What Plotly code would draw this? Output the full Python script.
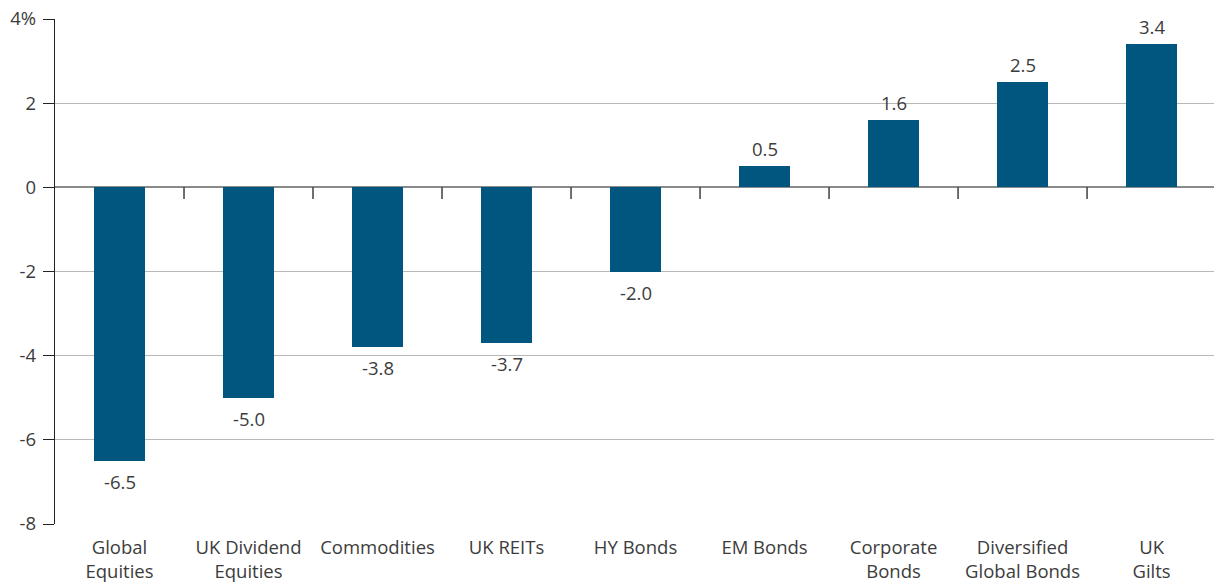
import plotly.graph_objects as go

# Asset class returns (%)
categories = [
    "Global<br>Equities",
    "UK Dividend<br>Equities",
    "Commodities",
    "UK REITs",
    "HY Bonds",
    "EM Bonds",
    "Corporate<br>Bonds",
    "Diversified<br>Global Bonds",
    "UK<br>Gilts",
]
returns = [-6.5, -5.0, -3.8, -3.7, -2.0, 0.5, 1.6, 2.5, 3.4]

y_ticks = [-8, -6, -4, -2, 0, 2, 4]
y_tick_text = ["-8", "-6", "-4", "-2", "0", "2", "4%"]

BAR_COLOR = "#00567F"
TEXT_COLOR = "#3c3c3c"
FONT = "Open Sans, Liberation Sans, Arial, sans-serif"
FONT_SIZE = 18.5

x_pos = list(range(len(categories)))

fig = go.Figure(
    go.Bar(
        x=x_pos,
        y=returns,
        width=0.39,
        marker=dict(color=BAR_COLOR, line=dict(width=0)),
        hoverinfo="skip",
    )
)

# value labels above positive bars, below negative ones
for x, v in zip(x_pos, returns):
    fig.add_annotation(
        x=x,
        y=v,
        text=f"{v:.1f}",
        showarrow=False,
        xref="x",
        yref="y",
        yanchor="bottom" if v >= 0 else "top",
        yshift=3 if v >= 0 else -6,
        font=dict(size=FONT_SIZE, color=TEXT_COLOR, family=FONT),
    )

# small category separators hanging from the zero line
for i in range(len(categories) - 1):
    fig.add_shape(
        type="line",
        xref="x",
        yref="y",
        x0=i + 0.5,
        x1=i + 0.5,
        y0=0,
        y1=-0.28,
        line=dict(color="#222222", width=1.3),
    )

fig.update_layout(
    width=1214,
    height=582,
    margin=dict(l=55, r=0, t=19, b=58),
    paper_bgcolor="white",
    plot_bgcolor="white",
    showlegend=False,
    font=dict(family=FONT, size=FONT_SIZE, color=TEXT_COLOR),
    bargap=0,
)

fig.update_xaxes(
    range=[-0.5, 8.484],
    tickmode="array",
    tickvals=x_pos,
    ticktext=categories,
    showgrid=False,
    zeroline=False,
    showline=False,
    ticks="",
    ticklabelstandoff=10,
    tickfont=dict(size=FONT_SIZE, color=TEXT_COLOR),
)

fig.update_yaxes(
    range=[-8, 4],
    tickmode="array",
    tickvals=y_ticks,
    ticktext=y_tick_text,
    showgrid=True,
    gridcolor="#b8b8b8",
    gridwidth=1,
    zeroline=True,
    zerolinecolor="#8a8a8a",
    zerolinewidth=2,
    showline=True,
    linecolor="#222222",
    linewidth=1.3,
    ticks="outside",
    ticklen=11,
    tickcolor="#222222",
    tickwidth=1.3,
    ticklabelstandoff=3,
    tickfont=dict(size=FONT_SIZE, color=TEXT_COLOR),
)

fig.write_html("out.html")
